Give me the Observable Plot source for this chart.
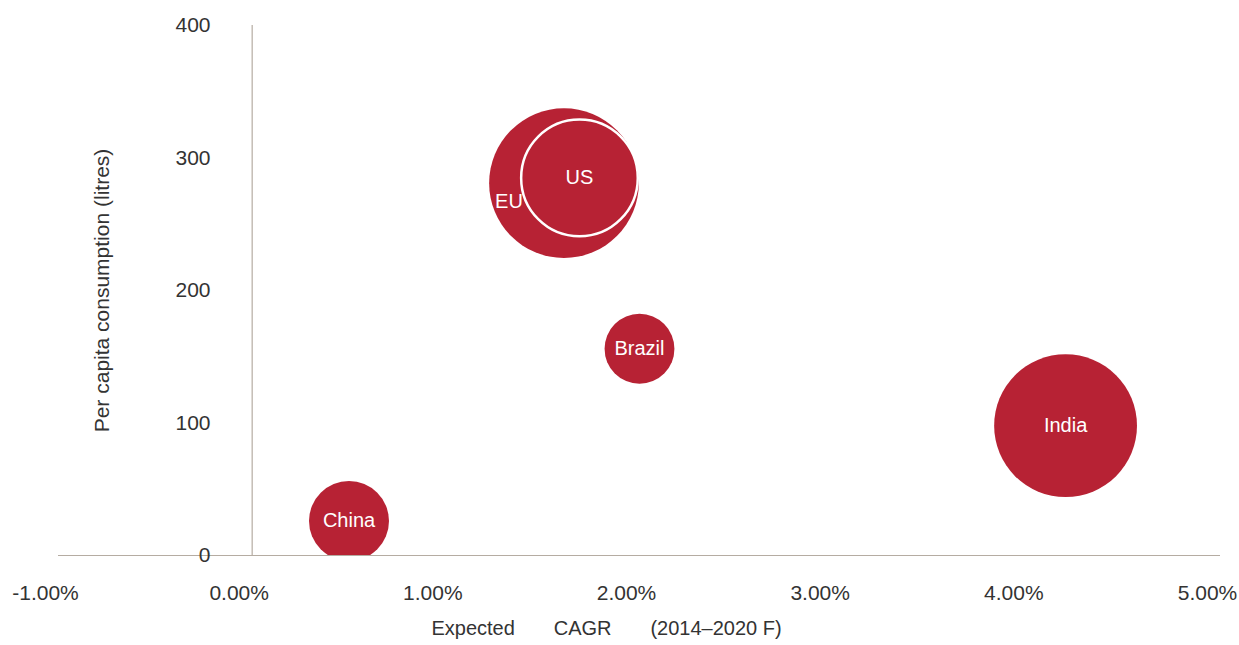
<!DOCTYPE html>
<html><head><meta charset="utf-8">
<script src="https://cdn.jsdelivr.net/npm/d3@7"></script>
<script src="https://cdn.jsdelivr.net/npm/@observablehq/plot@0.6"></script>
<style>body{margin:0;background:#fff;}</style>
</head><body><div id="chart"></div>
<script>
const countries = ["China", "Brazil", "India", "EU", "US"];
const cagr = [0.50, 2.00, 4.20, 1.61, 1.69];
const perCapita = [26, 156, 98, 281, 285];
const bubbleSize = [16, 12.2, 51, 56, 34];
const xTicks = [-1, 0, 1, 2, 3, 4, 5];
const yTicks = [0, 100, 200, 300, 400];
const xTitle = "Expected\u00a0\u00a0\u00a0\u00a0\u00a0\u00a0\u00a0CAGR\u00a0\u00a0\u00a0\u00a0\u00a0\u00a0\u00a0(2014\u20132020 F)";
const yTitle = "Per capita consumption (litres)";

const data = countries.map((c, i) => ({country: c, cagr: cagr[i], perCapita: perCapita[i], size: bubbleSize[i]}));
const red = "#b72234";
const axisColor = "#b5aca2";
const textColor = "#333333";
const font = "'Liberation Sans', Arial, Helvetica, sans-serif";

const chart = Plot.plot({
  width: 1239, height: 645,
  marginTop: 25, marginBottom: 90, marginLeft: 58, marginRight: 19,
  style: {fontFamily: font, fontSize: "21px", color: textColor, background: "#fff", overflow: "visible"},
  x: {domain: [-1, 5]},
  y: {domain: [0, 400]},
  r: {type: "sqrt", domain: [0, 100], range: [0, 100]},
  marks: [
    Plot.dot(data.filter(d => d.country !== "US"), {x: "cagr", y: "perCapita", r: "size", fill: red, clip: "frame"}),
    Plot.dot(data.filter(d => d.country === "US"), {x: "cagr", y: "perCapita", r: "size", fill: red, stroke: "#fff", strokeWidth: 2.5, clip: "frame"}),
    Plot.ruleY([0], {stroke: axisColor, strokeWidth: 1.2}),
    Plot.ruleX([0], {stroke: axisColor, strokeWidth: 1.2}),
    Plot.axisX(xTicks, {tickSize: 0, tickPadding: 30, tickFormat: d => d.toFixed(2) + "%", dx: -13, label: null, fill: textColor, fontSize: 21}),
    Plot.axisY(yTicks, {tickSize: 0, tickPadding: 0, dx: 152, label: null, fill: textColor, fontSize: 21}),
    Plot.text(data.filter(d => d.country !== "EU"), {x: "cagr", y: "perCapita", text: "country", fill: "#fff", fontSize: 20}),
    Plot.text(data.filter(d => d.country === "EU"), {x: "cagr", y: "perCapita", text: "country", fill: "#fff", fontSize: 20, dx: -55, dy: 18}),
    Plot.text([yTitle], {frameAnchor: "left", textAnchor: "middle", rotate: -90, dx: 44, fill: textColor, fontSize: 21}),
    Plot.text([xTitle], {frameAnchor: "bottom", textAnchor: "middle", dy: 79, dx: -33, fill: textColor, fontSize: 20})
  ]
});
document.getElementById("chart").appendChild(chart);
</script>
</body></html>
